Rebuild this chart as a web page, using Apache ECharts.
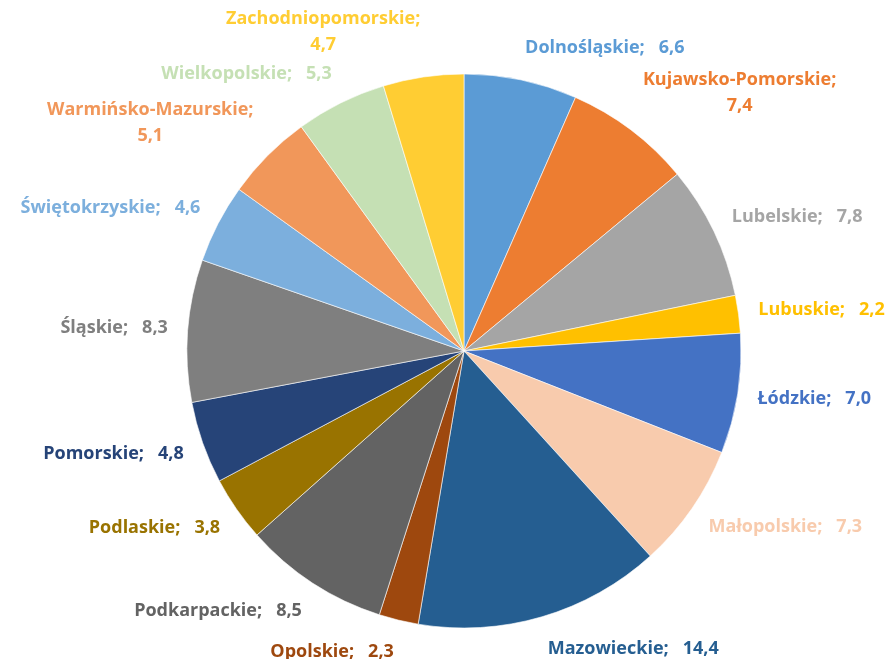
<!DOCTYPE html>
<html>
<head>
    <meta charset="UTF-8">
    <title>Województwa</title>
    <style type="text/css">
        html, body {
            margin: 0;
            padding: 0;
            background: #fff;
        }
        #chart {
            width: 893px;
            height: 659px;
        }
    </style>
    <script type="text/javascript" src="https://cdn.jsdelivr.net/npm/echarts@6/dist/echarts.min.js"></script>
</head>
<body>
<div id="chart"></div>
<script>
    // dane, kolejnosc zgodnie z ruchem wskazowek zegara od gory
    const names = ['Dolnośląskie', 'Kujawsko-Pomorskie', 'Lubelskie', 'Lubuskie', 'Łódzkie', 'Małopolskie',
        'Mazowieckie', 'Opolskie', 'Podkarpackie', 'Podlaskie', 'Pomorskie', 'Śląskie', 'Świętokrzyskie',
        'Warmińsko-Mazurskie', 'Wielkopolskie', 'Zachodniopomorskie'];
    const values = [6.6, 7.4, 7.8, 2.2, 7.0, 7.3, 14.4, 2.3, 8.5, 3.8, 4.8, 8.3, 4.6, 5.1, 5.3, 4.7];
    const colors = ['#5B9BD5', '#ED7D31', '#A5A5A5', '#FFC000', '#4472C4', '#F8CBAD', '#255E91', '#9E480E',
        '#636363', '#997300', '#264478', '#7F7F7F', '#7CAFDD', '#F1975A', '#C5E0B4', '#FFCD33'];

    let chart = echarts.init(document.getElementById('chart'));

    const cx = 464, cy = 351, R = 277, gap = 20;
    const total = values.reduce((a, b) => a + b, 0);
    let cum = [];
    let acc = 0;
    for (let i = 0; i < values.length; i++) {
        cum.push(acc);
        acc += values[i];
    }

    function fmt(v) {
        return v.toFixed(1).replace('.', ',');
    }

    let option = {
        animation: false,
        textStyle: {
            fontFamily: 'Open Sans'
        },
        series: [
            {
                type: 'pie',
                center: [cx, cy],
                radius: R,
                startAngle: 90,
                clockwise: true,
                avoidLabelOverlap: false,
                itemStyle: {
                    borderColor: '#ffffff',
                    borderWidth: 0.6
                },
                label: {
                    show: true,
                    position: 'outside',
                    fontSize: 18,
                    fontWeight: 'bold',
                    lineHeight: 26,
                    formatter: function (p) {
                        let sep = p.name.length > 16 ? ';\n' : ';   ';
                        return p.name + sep + fmt(p.value);
                    }
                },
                labelLine: {
                    show: false
                },
                labelLayout: function (params) {
                    let i = params.dataIndex;
                    let mid = (cum[i] + values[i] / 2) / total * Math.PI * 2;
                    let s = Math.sin(mid), c = Math.cos(mid);
                    let px = cx + (R + gap) * s, py = cy - (R + gap) * c;
                    let w = params.labelRect.width, h = params.labelRect.height;
                    return {
                        x: px + (s < 0 ? -1 : 1) * w / 2,
                        y: py - c * h / 2,
                        align: 'center',
                        verticalAlign: 'middle'
                    };
                },
                data: names.map(function (n, i) {
                    return {
                        name: n,
                        value: values[i],
                        itemStyle: {color: colors[i]},
                        label: {color: colors[i]}
                    };
                })
            }
        ]
    };
    chart.setOption(option);
</script>
</body>
</html>
